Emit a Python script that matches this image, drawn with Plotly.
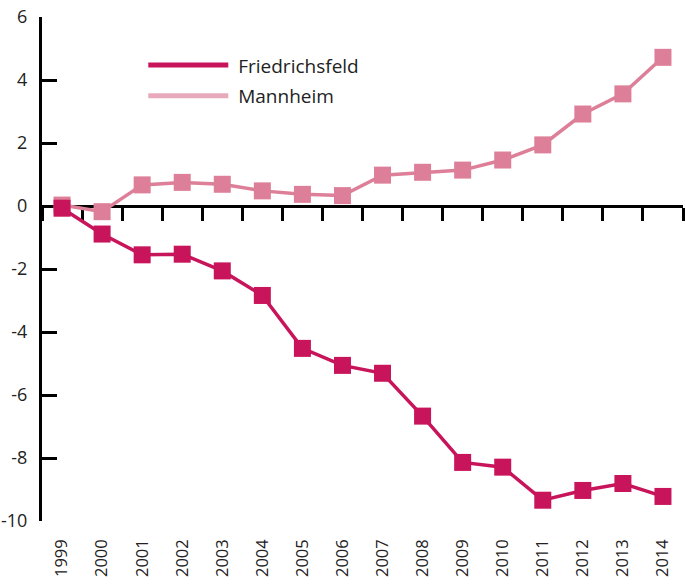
import plotly.graph_objects as go

years = [str(y) for y in range(1999, 2015)]
friedrichsfeld = [-0.07, -0.89, -1.55, -1.53, -2.06, -2.84, -4.52, -5.06, -5.31, -6.67,
                  -8.14, -8.29, -9.34, -9.03, -8.81, -9.22]
mannheim = [0.03, -0.18, 0.67, 0.75, 0.69, 0.48, 0.37, 0.33, 0.98, 1.07,
            1.14, 1.46, 1.94, 2.92, 3.56, 4.72]
y_ticks = [6, 4, 2, 0, -2, -4, -6, -8, -10]
y_ticktext = ["6", "4", "2", "0", "-2", "-4", "-6", "-8", "-10"]

DARK = "#C8145A"
LIGHT = "#DD7F98"
LIGHT_LEG = "#E8AABB"
FONT = "Open Sans"

fig = go.Figure()
fig.add_trace(go.Scatter(x=years, y=mannheim, mode="lines+markers", name="Mannheim",
                         line=dict(color=LIGHT, width=3.5),
                         marker=dict(symbol="square", size=17, color=LIGHT),
                         showlegend=False))
fig.add_trace(go.Scatter(x=years, y=friedrichsfeld, mode="lines+markers", name="Friedrichsfeld",
                         line=dict(color=DARK, width=3.5),
                         marker=dict(symbol="square", size=17, color=DARK),
                         showlegend=False))
# legend-only entries (lines only)
fig.add_trace(go.Scatter(x=[None], y=[None], mode="lines", name="\u00a0Friedrichsfeld",
                         legendgroup="a", line=dict(color=DARK, width=5)))
fig.add_trace(go.Scatter(x=[None], y=[None], mode="lines", name="\u00a0Mannheim",
                         legendgroup="b", line=dict(color=LIGHT_LEG, width=5)))

fig.update_layout(
    width=685, height=588,
    margin=dict(l=42, r=2, t=17, b=67),
    paper_bgcolor="white", plot_bgcolor="white",
    font=dict(family=FONT, size=17, color="#222"),
    showlegend=True,
    legend=dict(x=0.158, y=0.942, xanchor="left", yanchor="top",
                itemwidth=80, font=dict(size=19, family=FONT, color="#222"),
                bgcolor="rgba(0,0,0,0)", traceorder="grouped", tracegroupgap=3),
    xaxis=dict(type="category", range=[-0.5, 15.5], showline=False, ticks="",
               showgrid=False, zeroline=False, tickangle=-90, automargin=False,
               tickfont=dict(size=16.5, family=FONT, color="#222"),
               ticklabelstandoff=14),
    xaxis2=dict(overlaying="x", anchor="free", position=0.625, range=[-0.5, 15.5],
                tick0=-0.5, dtick=1, showline=True, linecolor="black", linewidth=3,
                ticks="outside", ticklen=13, tickwidth=3, tickcolor="black",
                showticklabels=False, showgrid=False, zeroline=False,
                automargin=False, layer="below traces"),
    yaxis=dict(range=[-10, 6], tickvals=y_ticks, ticktext=y_ticktext, showline=True,
               linecolor="black", automargin=False,
               linewidth=3, ticks="inside", ticklen=15, tickwidth=3, tickcolor="black",
               showgrid=False, zeroline=False,
               tickfont=dict(size=18, family=FONT, color="#222"),
               ticklabelstandoff=8, layer="below traces"),
)
fig.add_trace(go.Scatter(x=[None], y=[None], xaxis="x2", showlegend=False, hoverinfo="skip"))

fig.write_html("out.html", config={"displayModeBar": False},
               post_script="document.body.style.margin='0';document.body.style.overflow='hidden';")
